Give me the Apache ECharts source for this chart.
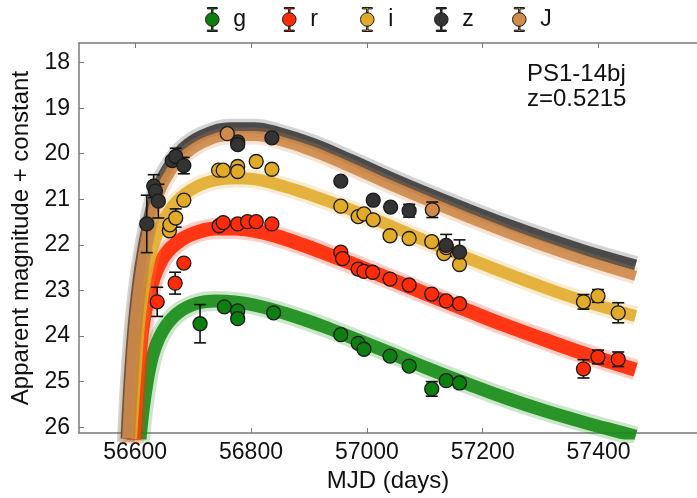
<!DOCTYPE html>
<html>
<head>
<meta charset="utf-8">
<script src="https://cdn.jsdelivr.net/npm/echarts@6/dist/echarts.min.js"></script>
<style>
    html, body { margin: 0; padding: 0; background: #fff; }
    #chart { width: 697px; height: 498px; }
</style>
</head>
<body>
<div id="chart"></div>
<script>
    // photometry, [MJD, magnitude, error]; error 0 = bar hidden behind the marker
    const gObs = [
        [56712, 23.73, 0.42], [56754, 23.36, 0], [56777, 23.45, 0], [56777, 23.62, 0],
        [56839, 23.49, 0], [56955, 23.97, 0], [56985, 24.16, 0], [56995, 24.29, 0],
        [57040, 24.44, 0], [57073, 24.66, 0], [57112, 25.16, 0.16], [57137, 24.98, 0],
        [57160, 25.03, 0]
    ]
    const rObs = [
        [56638, 23.25, 0.32], [56669, 22.84, 0.24], [56684, 22.40, 0], [56745, 21.58, 0],
        [56752, 21.51, 0], [56777, 21.54, 0], [56794, 21.49, 0], [56809, 21.49, 0],
        [56836, 21.54, 0], [56955, 22.16, 0], [56958, 22.30, 0], [56985, 22.53, 0],
        [56995, 22.58, 0], [57010, 22.60, 0], [57040, 22.75, 0], [57073, 22.88, 0],
        [57112, 23.08, 0], [57137, 23.23, 0], [57160, 23.29, 0], [57374, 24.72, 0.2],
        [57399, 24.46, 0.15], [57434, 24.51, 0.16]
    ]
    const iObs = [
        [56659, 21.69, 0], [56660, 21.56, 0], [56670, 21.41, 0.2], [56684, 21.02, 0],
        [56744, 20.36, 0], [56752, 20.36, 0], [56777, 20.28, 0], [56777, 20.39, 0],
        [56809, 20.17, 0], [56836, 20.34, 0], [56955, 21.15, 0], [56985, 21.38, 0],
        [56995, 21.32, 0], [57011, 21.45, 0], [57040, 21.80, 0], [57073, 21.86, 0],
        [57112, 21.93, 0], [57133, 22.19, 0], [57137, 22.06, 0], [57160, 22.43, 0],
        [57374, 23.25, 0.16], [57399, 23.12, 0.14], [57434, 23.49, 0.22]
    ]
    const zObs = [
        [56620, 21.54, 0.63], [56632, 20.71, 0.25], [56635, 20.82, 0], [56640, 21.04, 0.37],
        [56664, 20.15, 0], [56670, 20.06, 0.18], [56684, 20.26, 0.18], [56777, 19.74, 0],
        [56777, 19.80, 0], [56836, 19.65, 0], [56955, 20.60, 0], [57011, 21.02, 0],
        [57041, 21.17, 0], [57073, 21.25, 0.14], [57137, 22.01, 0.24], [57160, 22.16, 0.27]
    ]
    const jObs = [
        [56759, 19.56, 0], [57113, 21.23, 0.17]
    ]

    // model light curves (centre of each band of fits), [MJD, magnitude]
    const gModel = [
        [56608, 26.31], [56617, 25.31], [56630, 24.44], [56647, 23.90], [56672, 23.51],
        [56705, 23.29], [56739, 23.23], [56772, 23.25], [56806, 23.32], [56839, 23.43],
        [56873, 23.56], [56923, 23.78], [56973, 24.03], [57040, 24.37], [57107, 24.72],
        [57174, 25.05], [57240, 25.36], [57307, 25.64], [57374, 25.89], [57441, 26.12],
        [57464, 26.20]
    ]
    const rModel = [
        [56596, 26.60], [56605, 24.88], [56613, 23.79], [56625, 23.03], [56638, 22.53],
        [56655, 22.16], [56680, 21.88], [56705, 21.73], [56739, 21.64], [56772, 21.64],
        [56806, 21.69], [56839, 21.79], [56889, 22.00], [56939, 22.24], [56990, 22.49],
        [57040, 22.75], [57107, 23.10], [57174, 23.44], [57240, 23.77], [57307, 24.08],
        [57374, 24.38], [57464, 24.74]
    ]
    const iModel = [
        [56591, 26.60], [56600, 24.88], [56608, 23.57], [56618, 22.71], [56630, 22.06],
        [56647, 21.51], [56672, 21.04], [56705, 20.73], [56739, 20.58], [56772, 20.54],
        [56806, 20.56], [56839, 20.65], [56873, 20.78], [56906, 20.92], [56973, 21.23],
        [57040, 21.58], [57107, 21.94], [57174, 22.29], [57240, 22.62], [57307, 22.94],
        [57374, 23.23], [57464, 23.56]
    ]
    const zModel = [
        [56583, 26.60], [56590, 24.88], [56598, 23.57], [56608, 22.49], [56622, 21.51],
        [56638, 20.75], [56664, 20.15], [56689, 19.80], [56722, 19.56], [56764, 19.43],
        [56806, 19.43], [56847, 19.53], [56906, 19.77], [56973, 20.13], [57040, 20.51],
        [57107, 20.87], [57174, 21.21], [57240, 21.53], [57307, 21.83], [57374, 22.11],
        [57464, 22.44]
    ]
    const jModel = [
        [56585, 26.60], [56592, 24.88], [56600, 23.57], [56610, 22.53], [56623, 21.62],
        [56640, 20.91], [56665, 20.32], [56689, 20.00], [56722, 19.74], [56764, 19.61],
        [56806, 19.61], [56847, 19.71], [56906, 19.95], [56973, 20.31], [57040, 20.69],
        [57107, 21.05], [57174, 21.40], [57240, 21.73], [57307, 22.04], [57374, 22.33],
        [57464, 22.68]
    ]

    const xTicks = [56600, 56800, 57000, 57200, 57400]
    const yTicks = [18, 19, 20, 21, 22, 23, 24, 25, 26]

    const font = 'Liberation Sans'
    const axisGray = '#7a7a7a'

    // filter name, marker colour, band colour, band width, photometry, model
    const bands = [
        ['g', '#0c7f10', '#178c17', 13, gObs, gModel],
        ['r', '#ff2a06', '#ff2500', 14, rObs, rModel],
        ['i', '#e1aa28', '#e2ab2e', 12, iObs, iModel],
        ['z', '#333333', '#3b3b3b', 11, zObs, zModel],
        ['J', '#d08a4c', '#cf8a4a', 10, jObs, jModel]
    ]
    // left edge of each legend entry, px
    const legendLeft = [205, 282, 360, 434, 512]

    const legendIcon = 'path://M2,0H12V1.4H7.7V5.2H6.3V1.4H2Z' +
        'M2,24H12V22.6H7.7V18.8H6.3V22.6H2Z' +
        'M0.2,12A6.8,6.8 0 1 0 13.8,12A6.8,6.8 0 1 0 0.2,12Z'

    function errorBar (params, api) {
        let x = api.value(0)
        let y = api.value(1)
        let e = api.value(2)
        if (!e) return null
        let top = api.coord([x, y - e])
        let bot = api.coord([x, y + e])
        let w = 6
        let style = {stroke: '#111', lineWidth: 1.6}
        return {
            type: 'group',
            children: [
                {type: 'line', shape: {x1: top[0], y1: top[1], x2: bot[0], y2: bot[1]}, style: style},
                {type: 'line', shape: {x1: top[0] - w, y1: top[1], x2: top[0] + w, y2: top[1]}, style: style},
                {type: 'line', shape: {x1: bot[0] - w, y1: bot[1], x2: bot[0] + w, y2: bot[1]}, style: style}
            ]
        }
    }

    let series = []
    // model bands first, so the points sit on top
    bands.forEach(b => {
        series.push({
            name: b[0] + ' fits halo',
            type: 'line',
            data: b[5],
            smooth: 0.4,
            showSymbol: false,
            silent: true,
            z: 1,
            lineStyle: {color: b[2], width: b[3] + 7, opacity: 0.22}
        })
        series.push({
            name: b[0] + ' fits',
            type: 'line',
            data: b[5],
            smooth: 0.4,
            showSymbol: false,
            silent: true,
            z: 1,
            lineStyle: {color: b[2], width: b[3], opacity: 0.9}
        })
    })
    bands.forEach(b => {
        series.push({
            name: b[0] + ' err',
            type: 'custom',
            renderItem: errorBar,
            data: b[4],
            encode: {x: 0, y: 1},
            z: 3,
            silent: true
        })
    })
    bands.forEach(b => {
        series.push({
            name: b[0],
            type: 'scatter',
            data: b[4].map(p => [p[0], p[1]]),
            symbol: 'circle',
            symbolSize: 14,
            z: 4,
            itemStyle: {color: b[1], borderColor: '#1a1a1a', borderWidth: 1.3, opacity: 1}
        })
    })

    // one legend per filter so the entries sit where the reference puts them
    let legends = bands.map((b, k) => ({
        data: [b[0]],
        left: legendLeft[k],
        top: 7,
        padding: 0,
        icon: legendIcon,
        itemWidth: 14,
        itemHeight: 24,
        textStyle: {fontFamily: font, fontSize: 23, color: '#111', padding: [0, 0, 0, 9]},
        itemStyle: {borderColor: '#1a1a1a', borderWidth: 1}
    }))

    let myChart = echarts.init(document.getElementById('chart'))
    let option = {
        animation: false,
        backgroundColor: '#fff',
        title: {
            text: 'PS1-14bj\nz=0.5215',
            left: 527,
            top: 62,
            padding: 0,
            textStyle: {fontFamily: font, fontSize: 24, fontWeight: 'normal', color: '#111', lineHeight: 25}
        },
        legend: legends,
        grid: {left: 79, right: -20, top: 43, bottom: 60},
        xAxis: [
            {
                type: 'value',
                min: 56503,
                max: 57570,
                name: 'MJD (days)',
                nameLocation: 'middle',
                nameGap: 34,
                nameTextStyle: {fontFamily: font, fontSize: 24, color: '#111'},
                axisLine: {lineStyle: {color: axisGray, width: 1.5}},
                axisTick: {inside: true, length: 5, customValues: xTicks, lineStyle: {color: axisGray}},
                axisLabel: {
                    customValues: xTicks,
                    formatter: v => String(v),
                    fontFamily: font, fontSize: 23, color: '#111', margin: 8
                },
                splitLine: {show: false}
            },
            {
                type: 'value',
                position: 'top',
                min: 56503,
                max: 57570,
                axisLine: {lineStyle: {color: axisGray, width: 1.5}},
                axisTick: {inside: true, length: 5, customValues: xTicks, lineStyle: {color: axisGray}},
                axisLabel: {show: false},
                splitLine: {show: false}
            }
        ],
        yAxis: {
            type: 'value',
            inverse: true,
            min: 17.57,
            max: 26.13,
            name: 'Apparent magnitude + constant',
            nameLocation: 'middle',
            nameGap: 46,
            nameTextStyle: {fontFamily: font, fontSize: 24, color: '#111'},
            axisLine: {show: true, lineStyle: {color: axisGray, width: 1.5}},
            axisTick: {show: true, inside: true, length: 5, customValues: yTicks, lineStyle: {color: axisGray}},
            axisLabel: {customValues: yTicks, fontFamily: font, fontSize: 23, color: '#111', margin: 9},
            splitLine: {show: false}
        },
        series: series
    }
    myChart.setOption(option)
</script>
</body>
</html>
